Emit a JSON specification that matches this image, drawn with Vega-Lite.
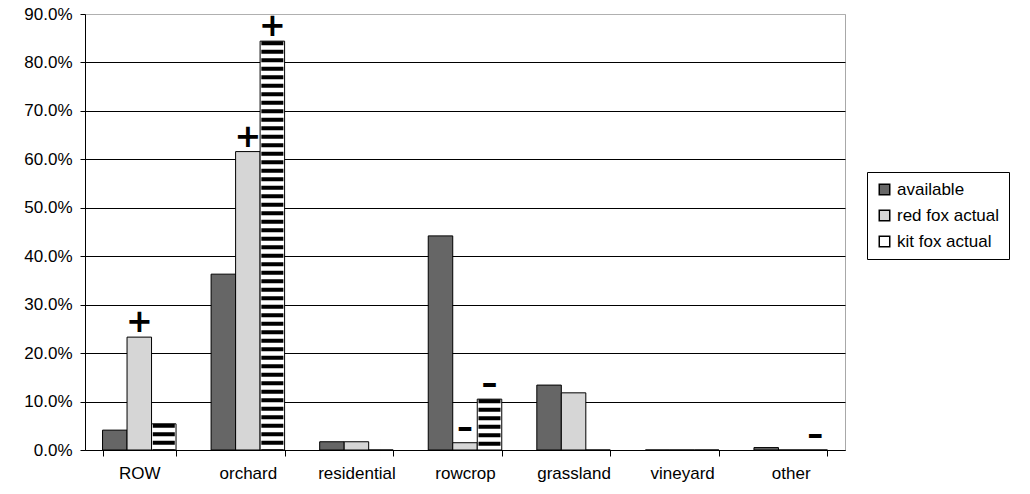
{
  "$schema": "https://vega.github.io/schema/vega-lite/v6.json",
  "autosize": "none",
  "width": 760,
  "height": 436,
  "padding": {"left": 85, "top": 14, "right": 185, "bottom": 44},
  "background": "white",
  "config": {
    "view": {"stroke": "#a8a8a8", "strokeWidth": 1},
    "font": "Liberation Sans"
  },
  "data": {
    "values": [
      {"landuse": "ROW", "series": "available", "value": 0.041, "sig": ""},
      {"landuse": "ROW", "series": "red fox actual", "value": 0.233, "sig": "+"},
      {"landuse": "ROW", "series": "kit fox actual", "value": 0.054, "sig": ""},
      {"landuse": "orchard", "series": "available", "value": 0.363, "sig": ""},
      {"landuse": "orchard", "series": "red fox actual", "value": 0.616, "sig": "+"},
      {"landuse": "orchard", "series": "kit fox actual", "value": 0.844, "sig": "+"},
      {"landuse": "residential", "series": "available", "value": 0.017, "sig": ""},
      {"landuse": "residential", "series": "red fox actual", "value": 0.017, "sig": ""},
      {"landuse": "residential", "series": "kit fox actual", "value": 0.0, "sig": ""},
      {"landuse": "rowcrop", "series": "available", "value": 0.442, "sig": ""},
      {"landuse": "rowcrop", "series": "red fox actual", "value": 0.015, "sig": "–"},
      {"landuse": "rowcrop", "series": "kit fox actual", "value": 0.105, "sig": "–"},
      {"landuse": "grassland", "series": "available", "value": 0.134, "sig": ""},
      {"landuse": "grassland", "series": "red fox actual", "value": 0.118, "sig": ""},
      {"landuse": "grassland", "series": "kit fox actual", "value": 0.0, "sig": ""},
      {"landuse": "vineyard", "series": "available", "value": 0.0, "sig": ""},
      {"landuse": "vineyard", "series": "red fox actual", "value": 0.0, "sig": ""},
      {"landuse": "vineyard", "series": "kit fox actual", "value": 0.0, "sig": ""},
      {"landuse": "other", "series": "available", "value": 0.005, "sig": ""},
      {"landuse": "other", "series": "red fox actual", "value": 0.0, "sig": ""},
      {"landuse": "other", "series": "kit fox actual", "value": 0.0, "sig": "–"}
    ]
  },
  "encoding": {
    "x": {
      "field": "landuse",
      "type": "nominal",
      "sort": null,
      "scale": {"paddingInner": 0.323, "paddingOuter": 0.1615},
      "axis": {
        "title": null,
        "labelAngle": 0,
        "labelFont": "Liberation Sans",
        "labelFontSize": 17,
        "labelColor": "black",
        "labelPadding": 9,
        "domainColor": "black",
        "tickColor": "black",
        "tickSize": 6,
        "tickBand": "extent"
      }
    },
    "xOffset": {
      "field": "series",
      "type": "nominal",
      "scale": {"domain": ["available", "red fox actual", "kit fox actual"], "paddingInner": 0, "paddingOuter": 0}
    },
    "y": {
      "field": "value",
      "type": "quantitative",
      "scale": {"domain": [0, 0.9], "nice": false},
      "axis": {
        "title": null,
        "format": ".1%",
        "values": [0, 0.1, 0.2, 0.3, 0.4, 0.5, 0.6, 0.7, 0.8, 0.9],
        "labelFont": "Liberation Sans",
        "labelFontSize": 17,
        "labelColor": "black",
        "labelPadding": 8,
        "domainColor": "black",
        "tickColor": "black",
        "tickSize": 5,
        "grid": true,
        "gridColor": {"condition": {"test": "datum.value >= 0.9", "value": "#b0b0b0"}, "value": "black"},
        "gridOpacity": 1
      }
    }
  },
  "layer": [
    {
      "mark": {"type": "bar", "stroke": "black", "strokeWidth": 1},
      "encoding": {
        "color": {
          "field": "series",
          "type": "nominal",
          "scale": {"domain": ["available", "red fox actual", "kit fox actual"], "range": ["#666666", "#d6d6d6", "#ffffff"]},
          "legend": {
            "title": null,
            "orient": "none",
            "legendX": 782,
            "legendY": 158,
            "strokeColor": "black",
            "padding": 9,
            "symbolType": "square",
            "symbolSize": 110,
            "symbolStrokeColor": "black",
            "symbolStrokeWidth": 1.5,
            "symbolOpacity": 1,
            "labelFont": "Liberation Sans",
            "labelFontSize": 17,
            "labelColor": "black",
            "rowPadding": 8,
            "labelOffset": 4
          }
        }
      }
    },
    {
      "transform": [{"filter": "datum.series === 'kit fox actual'"}],
      "mark": {"type": "rule", "color": "black", "strokeWidth": 22, "strokeDash": [4, 4.5], "strokeCap": "butt"},
      "encoding": {
        "y2": {"datum": 0}
      }
    },
    {
      "transform": [{"filter": "datum.sig !== ''"}],
      "mark": {"type": "text", "font": "DejaVu Sans", "fontWeight": "bold", "fontSize": 32, "baseline": "middle", "align": "center", "dy": -15, "color": "black"},
      "encoding": {
        "text": {"field": "sig"}
      }
    }
  ]
}
